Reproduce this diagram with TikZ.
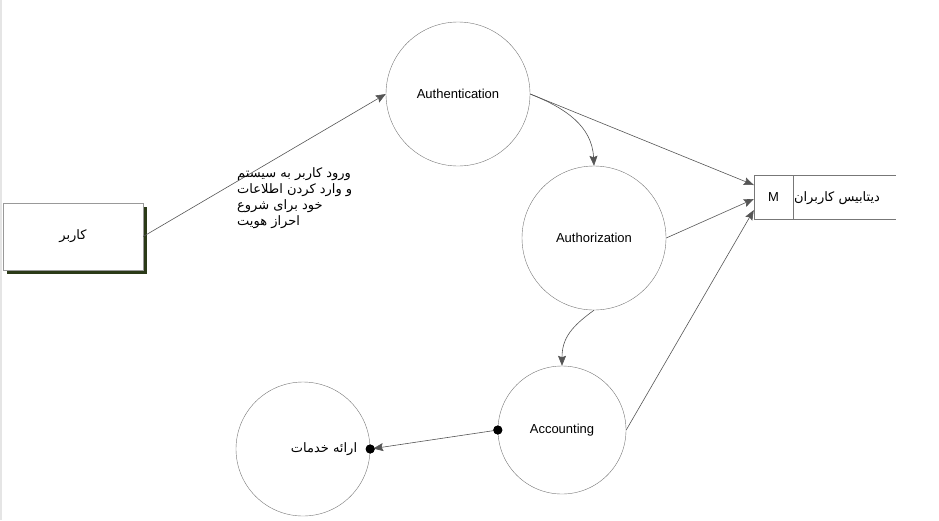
\documentclass[tikz,border=0pt]{standalone}
\usepackage{fontspec}
\setmainfont{Liberation Sans}
\newfontfamily\fafont[Script=Arabic]{DejaVu Sans}
\TeXXeTstate=1
\usepackage{xcolor}
\usetikzlibrary{arrows.meta, shadows}

\definecolor{linegray}{HTML}{555555}
\definecolor{rimgray}{HTML}{777777}
\definecolor{shadowgreen}{HTML}{2B3A18}

\begin{document}
\begin{tikzpicture}[>={Stealth[length=10pt, width=8pt, inset=1.5pt]},x=1pt,y=-1pt,thin,
    every node/.style={font=\fontsize{13}{16}\selectfont},
    process/.style={circle, draw=rimgray, fill=white, inner sep=0pt},
    flow/.style={->, draw=linegray, line width=0.6pt},
    port/.style={circle, fill=black, inner sep=0pt, minimum size=9pt}]

                \useasboundingbox (0,0) rectangle (939,520);
                \fill[gray!20] (0,0) rectangle (2,520);

                % user
                \node[draw=gray!80, fill=white, minimum width=140pt, minimum height=67pt,
                      drop shadow={shadow xshift=4pt, shadow yshift=-4pt, fill=shadowgreen, opacity=1}]
                      (user) at (73,236.5) {\fafont\beginR کاربر\endR};

                % processes
                \node[process, minimum size=144pt] (auth) at (458,94) {Authentication};
                \node[process, minimum size=144pt] (authz) at (594,238) {Authorization};
                \node[process, minimum size=128pt] (acct) at (562,430) {Accounting};
                \node[process, minimum size=134pt] (serv) at (303,449) {};
                \node (servtext) at (324,449) {\fafont\beginR ارائه خدمات\endR};

                % data store
                \node[draw=rimgray, minimum width=39pt, minimum height=44pt, inner sep=0pt] (M) at (773.5,197) {M};
                \node (dbtext) at (837,198) {\fafont\beginR دیتابیس کاربران\endR};
                \draw[rimgray] (M.north east) -- +(103,0);
                \draw[rimgray] (M.south east) -- +(103,0);

                % flows
                \draw[flow] (user.east) -- (auth.west);
                \node[align=left, anchor=north west, inner sep=0pt, font=\fontsize{13}{16}\selectfont\fafont] (note) at (237,167)
                      {\beginR ورود کاربر به سیستم\endR\\ \beginR و وارد کردن اطلاعات\endR\\ \beginR خود برای شروع\endR\\ \beginR احراز هویت\endR};

                \draw[flow] (auth.east) -- ([yshift=12pt]M.west);
                \draw[flow] (auth.east) .. controls +(35,14) and +(-2,-40) .. (authz.north);
                \draw[flow] (authz.east) -- ([yshift=-2pt]M.west);
                \draw[flow] (authz.south) .. controls +(-22,16) and +(0,-28) .. (acct.north);
                \draw[flow] (acct.east) -- ([yshift=-13pt]M.west);

                \node[port] (p1) at (acct.west) {};
                \node[port] (p2) at (serv.east) {};
                \draw[flow, shorten >=3pt] (p1.center) -- (p2.center);
                \node[port] at (p1) {};
                \node[port] at (p2) {};
            \end{tikzpicture}
\end{document}
